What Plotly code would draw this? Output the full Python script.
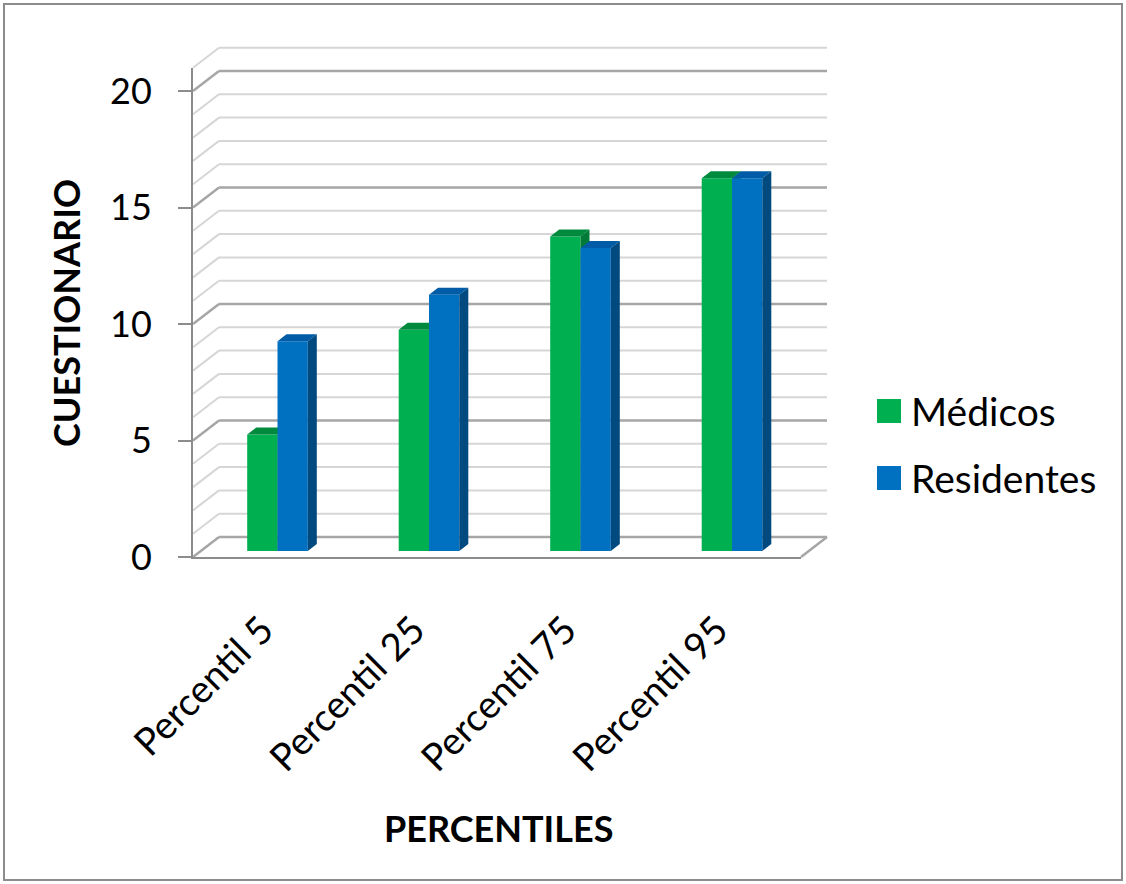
import plotly.graph_objects as go

# ---------------- data ----------------
categories = ["Percentil 5", "Percentil 25", "Percentil 75", "Percentil 95"]
medicos = [5, 9.5, 13.5, 16]
residentes = [9, 11, 13, 16]
series_names = ["Médicos", "Residentes"]
y_ticks = [0, 5, 10, 15, 20]
y_max = 21
x_title = "PERCENTILES"
y_title = "CUESTIONARIO"

# ---------------- styling ----------------
W, H = 1126, 884
FONT = "Lato"
GREEN, GREEN_TOP, GREEN_SIDE = "#00b050", "#008a3e", "#007a36"
BLUE, BLUE_TOP, BLUE_SIDE = "#0070c0", "#005ca6", "#004a80"
MAJOR, MINOR, AXIS = "#a6a6a6", "#d6d6d6", "#8c8c8c"

UNIT = 23.3                     # pixels per value unit
FRONT = dict(x0=193, x1=801, y0=557)
BACK = dict(x0=219, x1=827, y0=537)
PLANE = dict(x0=201.75, x1=807.75, y0=551)   # plane in which bars stand
BAR_W = 0.2
DX = 9 / ((PLANE["x1"] - PLANE["x0"]) / len(categories))   # bar depth, category units
DY = 7 / UNIT                                               # bar depth, value units


def fx(p):
    return p / W


def fy(p):
    return 1 - p / H


def ydom(base):
    return [fy(base), fy(base - y_max * UNIT)]


xs = list(range(len(categories)))
xr = [-0.5, len(categories) - 0.5]

fig = go.Figure()

# invisible anchors for wall / front subplots
fig.add_trace(go.Scatter(x=[0], y=[0], xaxis="x", yaxis="y", mode="markers",
                         marker=dict(opacity=0), showlegend=False, hoverinfo="skip"))
fig.add_trace(go.Scatter(x=[0], y=[0], xaxis="x2", yaxis="y2", mode="markers",
                         marker=dict(opacity=0), showlegend=False, hoverinfo="skip"))


def faces(vals, offset, side_color, top_color, xa, ya):
    for i, v in zip(xs, vals):
        xl, xrt = i + offset, i + offset + BAR_W
        # top face
        fig.add_trace(go.Scatter(
            x=[xl, xrt, xrt + DX, xl + DX, xl], y=[v, v, v + DY, v + DY, v],
            fill="toself", fillcolor=top_color, line=dict(width=0), mode="lines",
            xaxis=xa, yaxis=ya, showlegend=False, hoverinfo="skip"))
        # side face
        fig.add_trace(go.Scatter(
            x=[xrt, xrt + DX, xrt + DX, xrt, xrt], y=[0, DY, v + DY, v, 0],
            fill="toself", fillcolor=side_color, line=dict(width=0), mode="lines",
            xaxis=xa, yaxis=ya, showlegend=False, hoverinfo="skip"))


# green bars (subplot x3/y3)
fig.add_trace(go.Bar(x=xs, y=medicos, width=BAR_W, offset=-BAR_W, name=series_names[0],
                     marker=dict(color=GREEN, line=dict(width=0)), xaxis="x3", yaxis="y3",
                     showlegend=False))
faces(medicos, -BAR_W, GREEN_SIDE, GREEN_TOP, "x3", "y3")

# blue bars (overlay x4/y4, drawn on top)
fig.add_trace(go.Bar(x=xs, y=residentes, width=BAR_W, offset=0, name=series_names[1],
                     marker=dict(color=BLUE, line=dict(width=0)), xaxis="x4", yaxis="y4",
                     showlegend=False))
faces(residentes, 0, BLUE_SIDE, BLUE_TOP, "x4", "y4")

shapes = []
# back wall gridlines and left wall diagonals
for v in range(0, y_max + 1):
    col = MAJOR if v % 5 == 0 else MINOR
    w = 2.5 if v % 5 == 0 else 2
    yb = BACK["y0"] - v * UNIT
    yf = FRONT["y0"] - v * UNIT
    shapes.append(dict(type="line", xref="paper", yref="paper", layer="below",
                       x0=fx(BACK["x0"]), x1=fx(BACK["x1"]), y0=fy(yb), y1=fy(yb),
                       line=dict(color=col, width=w)))
    shapes.append(dict(type="line", xref="paper", yref="paper", layer="below",
                       x0=fx(FRONT["x0"]), x1=fx(BACK["x0"]), y0=fy(yf), y1=fy(yb),
                       line=dict(color=col, width=w)))
# floor right diagonal
shapes.append(dict(type="line", xref="paper", yref="paper", layer="below",
                   x0=fx(FRONT["x1"]), x1=fx(BACK["x1"]), y0=fy(FRONT["y0"]), y1=fy(BACK["y0"]),
                   line=dict(color=MAJOR, width=2.5)))
# outer border
shapes.append(dict(type="rect", xref="paper", yref="paper", x0=fx(4), x1=fx(1122),
                   y0=fy(880), y1=fy(4), line=dict(color=AXIS, width=2)))

# manual legend
annotations = []
for k, (nm, col) in enumerate(zip(series_names, [GREEN, BLUE])):
    cy = 411 + k * 67
    shapes.append(dict(type="rect", xref="paper", yref="paper", x0=fx(877), x1=fx(901),
                       y0=fy(cy + 12), y1=fy(cy - 12), fillcolor=col, line=dict(width=0)))
    annotations.append(dict(text=nm, xref="paper", yref="paper", x=fx(909), y=fy(cy),
                            xanchor="left", yanchor="middle", showarrow=False,
                            font=dict(family=FONT, size=39, color="black")))

annotations.append(dict(text="<b>%s</b>" % x_title, xref="paper", yref="paper",
                        x=fx(498), y=fy(828), xanchor="center", yanchor="middle",
                        showarrow=False, font=dict(family=FONT, size=36, color="black")))
annotations.append(dict(text="<b>%s</b>" % y_title, xref="paper", yref="paper",
                        x=fx(66), y=fy(313), xanchor="center", yanchor="middle",
                        textangle=-90, showarrow=False,
                        font=dict(family=FONT, size=36, color="black")))

hidden = dict(visible=False, fixedrange=True, automargin=False)
fig.update_layout(
    width=W, height=H, margin=dict(l=0, r=0, t=0, b=0, autoexpand=False),
    paper_bgcolor="white", plot_bgcolor="rgba(0,0,0,0)",
    showlegend=False,
    font=dict(family=FONT, color="black"),
    # back wall
    xaxis=dict(domain=[fx(BACK["x0"]), fx(BACK["x1"])], range=xr, **hidden),
    yaxis=dict(domain=ydom(BACK["y0"]), range=[0, y_max], **hidden),
    # front axis + floor front edge
    xaxis2=dict(domain=[fx(FRONT["x0"]), fx(FRONT["x1"])], range=xr, anchor="y2",
                showline=True, linecolor=AXIS, linewidth=2, showticklabels=False,
                ticks="", showgrid=False, zeroline=False, automargin=False),
    yaxis2=dict(domain=ydom(FRONT["y0"]), range=[0, y_max], anchor="x2",
                showline=True, linecolor=AXIS, linewidth=2, ticks="outside",
                ticklen=13, tickwidth=2, tickcolor=AXIS, tickvals=y_ticks,
                tickfont=dict(family=FONT, size=36, color="black"),
                ticklabelstandoff=19, showgrid=False, zeroline=False, automargin=False),
    # bars plane
    xaxis3=dict(domain=[fx(PLANE["x0"]), fx(PLANE["x1"])], range=xr, anchor="y3",
                tickvals=xs, ticktext=categories, tickangle=-45, ticks="",
                tickfont=dict(family=FONT, size=38, color="black"),
                ticklabelstandoff=48, ticklabelshift=-15,
                showline=False, showgrid=False, zeroline=False, automargin=False),
    yaxis3=dict(domain=ydom(PLANE["y0"]), range=[0, y_max], anchor="x3", **hidden),
    xaxis4=dict(overlaying="x3", range=xr, anchor="y4", **hidden),
    yaxis4=dict(overlaying="y3", range=[0, y_max], anchor="x4", **hidden),
    shapes=shapes, annotations=annotations,
)

fig.write_html("out.html")
